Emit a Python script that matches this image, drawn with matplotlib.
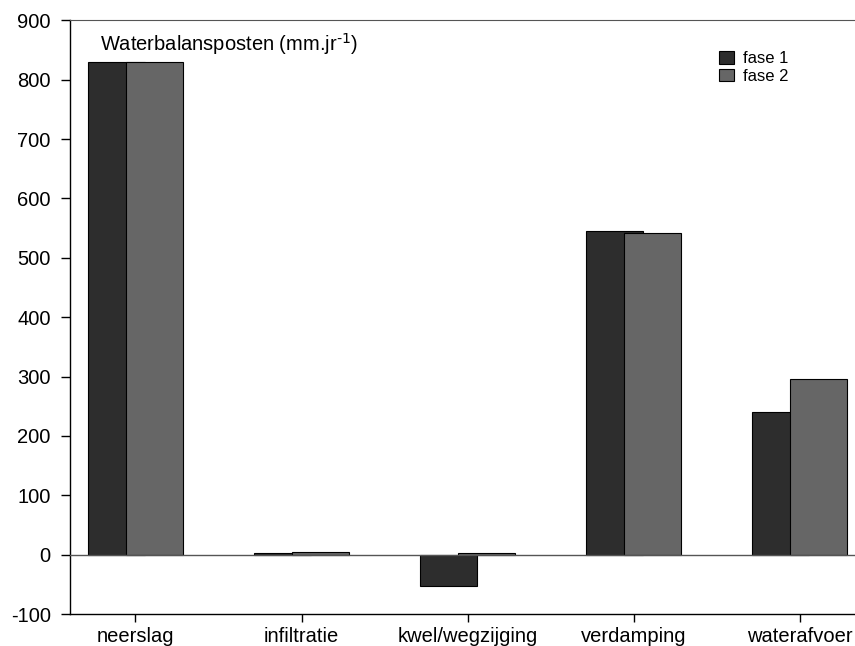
import matplotlib
matplotlib.use("Agg")
import matplotlib.pyplot as plt
import numpy as np

plt.rcParams['font.family'] = ['Liberation Sans', 'DejaVu Sans']
plt.rcParams['mathtext.default'] = 'regular'
plt.rcParams['axes.unicode_minus'] = False

# waterbalansposten per fase (mm/jr)
posten = ['neerslag', 'infiltratie', 'kwel/wegzijging', 'verdamping', 'waterafvoer']
fase1 = [830, 2, -52, 545, 241]
fase2 = [830, 5, 2, 542, 295]

x = np.arange(len(posten))
breedte = 0.343
verschuiving = 0.114

fig = plt.figure(figsize=(8.55, 6.46), dpi=100)
ax = fig.add_axes([69.5 / 855, 1 - 614 / 646, 1 - 69.5 / 855, (614 - 20.3) / 646])

ax.bar(x - verschuiving, fase1, breedte, color='#2d2d2d', edgecolor='black',
       linewidth=0.8, label='fase 1', zorder=2)
ax.bar(x + verschuiving, fase2, breedte, color='#666666', edgecolor='black',
       linewidth=0.8, label='fase 2', zorder=3)

ax.axhline(0, color='#555555', linewidth=1.0, zorder=4)

ax.set_xlim(-0.397, 4.332)
ax.set_ylim(-100, 900)
ax.set_yticks(np.arange(-100, 901, 100))
ax.set_xticks(x)
ax.set_xticklabels(posten)

ax.spines['right'].set_visible(False)
ax.spines['top'].set_color('#555555')
ax.spines['left'].set_linewidth(1.0)
ax.spines['bottom'].set_linewidth(1.0)
ax.tick_params(axis='y', direction='out', length=6.5, width=1.0, pad=7, labelsize=14.5)
ax.tick_params(axis='x', direction='out', length=6, width=1.0, pad=3, labelsize=14.5)

ax.text(100 / 855, 1 - 44 / 646, r'Waterbalansposten (mm.jr$^{\text{-1}}$)',
        transform=fig.transFigure, fontsize=14.5, va='center', ha='left')

ax.legend(loc='upper left', bbox_to_anchor=(719 / 855, 1 - 51 / 646),
          bbox_transform=fig.transFigure, frameon=False, fontsize=12,
          handlelength=0.9, handleheight=0.8, handletextpad=0.55,
          labelspacing=0.15, borderpad=0, borderaxespad=0)

fig.savefig('out.png', dpi=100)
